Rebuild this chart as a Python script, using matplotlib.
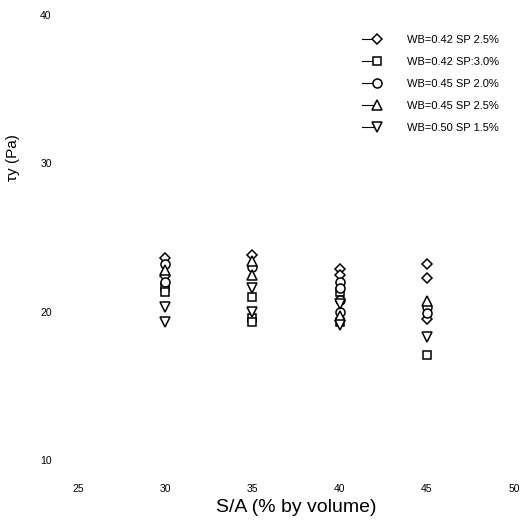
import matplotlib
matplotlib.use("Agg")
import matplotlib.pyplot as plt
from matplotlib.legend_handler import HandlerLine2D

plt.rcParams['font.family'] = ['Liberation Sans', 'DejaVu Sans']

# S/A (% by volume) and yield stress readings for each mix
dia_x = [30, 30, 35, 40, 40, 45, 45, 45]
dia_y = [23.6, 22.4, 23.8, 22.9, 22.5, 23.2, 22.3, 19.5]

sq_x = [30, 30, 35, 35, 35, 40, 40, 45]
sq_y = [21.7, 21.3, 21.0, 19.6, 19.3, 21.3, 19.3, 17.1]

circ_x = [30, 30, 35, 40, 40, 40, 40, 45, 45]
circ_y = [23.2, 22.0, 23.0, 22.0, 21.6, 20.8, 20.0, 20.3, 19.9]

tup_x = [30, 35, 35, 40, 45]
tup_y = [22.8, 23.4, 22.5, 19.7, 20.7]

tdn_x = [30, 30, 35, 35, 40, 40, 45]
tdn_y = [20.3, 19.3, 21.6, 20.0, 20.5, 19.1, 18.3]

labels = ['WB=0.42 SP 2.5%', 'WB=0.42 SP:3.0%', 'WB=0.45 SP 2.0%',
          'WB=0.45 SP 2.5%', 'WB=0.50 SP 1.5%']
xticks = [25, 30, 35, 40, 45, 50]
yticks = [10, 20, 30, 40]


class LeftLineHandler(HandlerLine2D):
    # short line on the left, marker at the right end
    def create_artists(self, legend, orig_handle, xdescent, ydescent,
                       width, height, fontsize, trans):
        arts = super().create_artists(legend, orig_handle, xdescent, ydescent,
                                      width, height, fontsize, trans)
        line = arts[0]
        x = line.get_xdata()
        line.set_xdata([x[0], x[-1], x[-1]])
        return arts


fig = plt.figure(figsize=(5.24, 5.21), dpi=100)
ax = fig.add_axes([0.149, 0.117, 0.832, 0.854])

series = [(dia_x, dia_y, 'D', 5), (sq_x, sq_y, 's', 6), (circ_x, circ_y, 'o', 6.5),
          (tup_x, tup_y, '^', 6.5), (tdn_x, tdn_y, 'v', 6.5)]
handles = []
for (xs, ys, m, ms), lab in zip(series, labels):
    ax.plot(xs, ys, linestyle='none', marker=m, markersize=ms, mfc='white',
            mec='black', mew=1.1)
    h, = ax.plot([], [], linestyle='-', color='black', lw=0.8, marker=m,
                 markersize=ms, mfc='white', mec='black', mew=1.1, label=lab)
    handles.append(h)

ax.set_xlim(25, 50)
ax.set_ylim(10, 40)
ax.set_xticks(xticks)
ax.set_yticks(yticks)
ax.tick_params(length=0, labelsize=7.5)
ax.tick_params(axis='x', pad=17)
ax.tick_params(axis='y', pad=19)
for s in ax.spines.values():
    s.set_visible(False)

ax.set_xlabel('S/A (% by volume)', fontsize=14, labelpad=4)
fig.text(13 / 524, 1 - 158 / 521, 'τy (Pa)', rotation=90, fontsize=11,
         ha='center', va='center')

ax.legend(handles=handles, loc='upper right', bbox_to_anchor=(0.966, 0.955),
          frameon=False, fontsize=8, numpoints=1, handlelength=1.4,
          handletextpad=2.7, labelspacing=1.08, borderpad=0, borderaxespad=0,
          handler_map={h: LeftLineHandler() for h in handles})

fig.savefig('out.png', dpi=100)
